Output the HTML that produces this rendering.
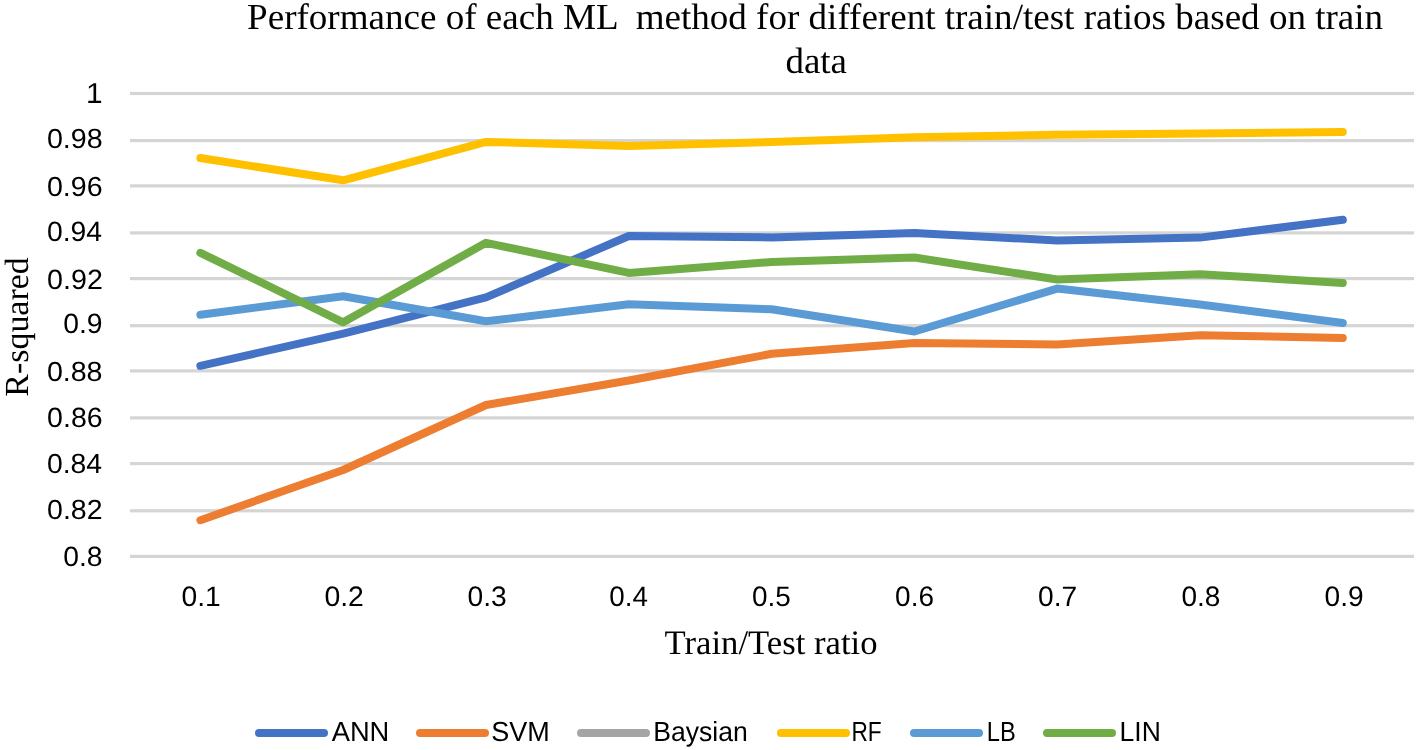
<!DOCTYPE html>
<html><head><meta charset="utf-8"><style>
html,body{margin:0;padding:0;background:#fff;width:1416px;height:750px;overflow:hidden}
svg{display:block;will-change:transform}
text{fill:#000;text-rendering:geometricPrecision}
</style></head><body>
<svg width="1416" height="750" viewBox="0 0 1416 750">
<rect width="1416" height="750" fill="#fff"/>
<rect x="130" y="91.90" width="1284" height="3.2" fill="#D5D5D5"/>
<rect x="130" y="139.00" width="1284" height="3.2" fill="#D5D5D5"/>
<rect x="130" y="184.30" width="1284" height="3.2" fill="#D5D5D5"/>
<rect x="130" y="231.30" width="1284" height="3.2" fill="#D5D5D5"/>
<rect x="130" y="277.00" width="1284" height="3.2" fill="#D5D5D5"/>
<rect x="130" y="324.10" width="1284" height="3.2" fill="#D5D5D5"/>
<rect x="130" y="369.30" width="1284" height="3.2" fill="#D5D5D5"/>
<rect x="130" y="416.30" width="1284" height="3.2" fill="#D5D5D5"/>
<rect x="130" y="462.00" width="1284" height="3.2" fill="#D5D5D5"/>
<rect x="130" y="509.20" width="1284" height="3.2" fill="#D5D5D5"/>
<rect x="130" y="554.80" width="1284" height="3.2" fill="#D5D5D5"/>
<polyline points="200.4,365.8 343.2,333.7 486.0,297.4 628.8,236.0 771.6,237.4 914.4,233.1 1057.2,240.5 1200.0,237.6 1342.8,219.8" fill="none" stroke="#4472C4" stroke-width="8" stroke-linejoin="round" stroke-linecap="round"/>
<polyline points="200.4,520.2 343.2,470.0 486.0,405.0 628.8,380.5 771.6,353.8 914.4,343.0 1057.2,344.4 1200.0,335.2 1342.8,338.0" fill="none" stroke="#ED7D31" stroke-width="8" stroke-linejoin="round" stroke-linecap="round"/>
<polyline points="200.4,158.0 343.2,180.3 486.0,141.9 628.8,146.0 771.6,142.1 914.4,137.3 1057.2,134.7 1200.0,133.5 1342.8,132.0" fill="none" stroke="#FFC000" stroke-width="8" stroke-linejoin="round" stroke-linecap="round"/>
<polyline points="200.4,314.8 343.2,296.2 486.0,321.3 628.8,304.3 771.6,309.3 914.4,331.5 1057.2,288.6 1200.0,304.5 1342.8,323.0" fill="none" stroke="#5B9BD5" stroke-width="8" stroke-linejoin="round" stroke-linecap="round"/>
<polyline points="200.4,252.8 343.2,322.3 486.0,242.8 628.8,272.9 771.6,261.9 914.4,257.5 1057.2,279.5 1200.0,274.2 1342.8,282.9" fill="none" stroke="#70AD47" stroke-width="8" stroke-linejoin="round" stroke-linecap="round"/>
<line x1="259" y1="733" x2="324" y2="733" stroke="#4472C4" stroke-width="8" stroke-linecap="round"/>
<line x1="420" y1="733" x2="485" y2="733" stroke="#ED7D31" stroke-width="8" stroke-linecap="round"/>
<line x1="581" y1="733" x2="646" y2="733" stroke="#A5A5A5" stroke-width="8" stroke-linecap="round"/>
<line x1="781" y1="733" x2="846" y2="733" stroke="#FFC000" stroke-width="8" stroke-linecap="round"/>
<line x1="914" y1="733" x2="979" y2="733" stroke="#5B9BD5" stroke-width="8" stroke-linecap="round"/>
<line x1="1047" y1="733" x2="1112" y2="733" stroke="#70AD47" stroke-width="8" stroke-linecap="round"/>
<text transform="translate(247.07,29.01) scale(1.0016,0.9939)" font-family="&quot;Liberation Serif&quot;, serif" font-size="37" xml:space="preserve">Performance of each ML  method for different train/test ratios based on train</text>
<text transform="translate(785.39,72.66) scale(1.0001,0.9948)" font-family="&quot;Liberation Serif&quot;, serif" font-size="37" xml:space="preserve">data</text>
<text transform="translate(664.57,654.41) scale(1.0197,1.0111)" font-family="&quot;Liberation Serif&quot;, serif" font-size="34" xml:space="preserve">Train/Test ratio</text>
<text transform="translate(27.84,396.65) rotate(-90) scale(0.9972,0.9910)" font-family="&quot;Liberation Serif&quot;, serif" font-size="34" xml:space="preserve">R-squared</text>
<text transform="translate(86.06,103.22) scale(1.1055,1.0660)" font-family="&quot;Liberation Sans&quot;, sans-serif" font-size="27" xml:space="preserve">1</text>
<text transform="translate(46.89,148.32) scale(1.0612,1.0255)" font-family="&quot;Liberation Sans&quot;, sans-serif" font-size="27" xml:space="preserve">0.98</text>
<text transform="translate(46.90,195.62) scale(1.0591,1.0267)" font-family="&quot;Liberation Sans&quot;, sans-serif" font-size="27" xml:space="preserve">0.96</text>
<text transform="translate(46.97,241.36) scale(1.0493,1.0336)" font-family="&quot;Liberation Sans&quot;, sans-serif" font-size="27" xml:space="preserve">0.94</text>
<text transform="translate(47.08,288.82) scale(1.0611,1.0312)" font-family="&quot;Liberation Sans&quot;, sans-serif" font-size="27" xml:space="preserve">0.92</text>
<text transform="translate(63.23,333.27) scale(1.0491,1.0302)" font-family="&quot;Liberation Sans&quot;, sans-serif" font-size="27" xml:space="preserve">0.9</text>
<text transform="translate(46.88,381.07) scale(1.0583,1.0266)" font-family="&quot;Liberation Sans&quot;, sans-serif" font-size="27" xml:space="preserve">0.88</text>
<text transform="translate(47.12,426.86) scale(1.0554,1.0300)" font-family="&quot;Liberation Sans&quot;, sans-serif" font-size="27" xml:space="preserve">0.86</text>
<text transform="translate(46.95,472.95) scale(1.0494,1.0241)" font-family="&quot;Liberation Sans&quot;, sans-serif" font-size="27" xml:space="preserve">0.84</text>
<text transform="translate(47.08,519.06) scale(1.0559,1.0219)" font-family="&quot;Liberation Sans&quot;, sans-serif" font-size="27" xml:space="preserve">0.82</text>
<text transform="translate(63.23,566.30) scale(1.0471,1.0295)" font-family="&quot;Liberation Sans&quot;, sans-serif" font-size="27" xml:space="preserve">0.8</text>
<text transform="translate(181.52,605.82) scale(1.0452,1.0432)" font-family="&quot;Liberation Sans&quot;, sans-serif" font-size="27" xml:space="preserve">0.1</text>
<text transform="translate(324.39,605.82) scale(1.0519,1.0432)" font-family="&quot;Liberation Sans&quot;, sans-serif" font-size="27" xml:space="preserve">0.2</text>
<text transform="translate(467.50,605.82) scale(1.0451,1.0432)" font-family="&quot;Liberation Sans&quot;, sans-serif" font-size="27" xml:space="preserve">0.3</text>
<text transform="translate(609.25,605.82) scale(1.0297,1.0432)" font-family="&quot;Liberation Sans&quot;, sans-serif" font-size="27" xml:space="preserve">0.4</text>
<text transform="translate(752.08,605.82) scale(1.0344,1.0432)" font-family="&quot;Liberation Sans&quot;, sans-serif" font-size="27" xml:space="preserve">0.5</text>
<text transform="translate(895.12,605.82) scale(1.0353,1.0432)" font-family="&quot;Liberation Sans&quot;, sans-serif" font-size="27" xml:space="preserve">0.6</text>
<text transform="translate(1038.12,605.82) scale(1.0424,1.0432)" font-family="&quot;Liberation Sans&quot;, sans-serif" font-size="27" xml:space="preserve">0.7</text>
<text transform="translate(1181.45,605.82) scale(1.0374,1.0432)" font-family="&quot;Liberation Sans&quot;, sans-serif" font-size="27" xml:space="preserve">0.8</text>
<text transform="translate(1324.57,605.82) scale(1.0400,1.0432)" font-family="&quot;Liberation Sans&quot;, sans-serif" font-size="27" xml:space="preserve">0.9</text>
<text transform="translate(331.66,741.30) scale(1.0504,1.0630)" font-family="&quot;Liberation Sans&quot;, sans-serif" font-size="26" xml:space="preserve">ANN</text>
<text transform="translate(491.28,741.30) scale(1.0389,1.0630)" font-family="&quot;Liberation Sans&quot;, sans-serif" font-size="26" xml:space="preserve">SVM</text>
<text transform="translate(653.15,741.30) scale(1.0228,1.0630)" font-family="&quot;Liberation Sans&quot;, sans-serif" font-size="26" xml:space="preserve">Baysian</text>
<text transform="translate(851.41,741.30) scale(0.8742,1.0630)" font-family="&quot;Liberation Sans&quot;, sans-serif" font-size="26" xml:space="preserve">RF</text>
<text transform="translate(986.85,741.30) scale(0.9110,1.0630)" font-family="&quot;Liberation Sans&quot;, sans-serif" font-size="26" xml:space="preserve">LB</text>
<text transform="translate(1119.57,741.30) scale(1.0192,1.0630)" font-family="&quot;Liberation Sans&quot;, sans-serif" font-size="26" xml:space="preserve">LIN</text>
</svg>
</body></html>
